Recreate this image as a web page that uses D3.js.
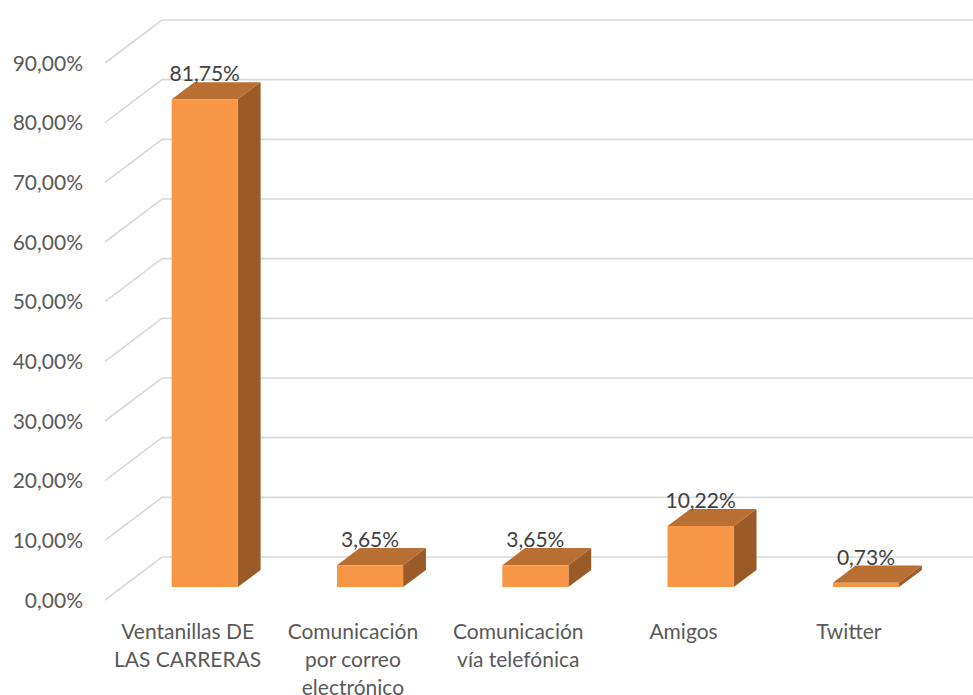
<!DOCTYPE html>
<html>
<head>
<meta charset="utf-8">
<script src="https://cdn.jsdelivr.net/npm/d3@7"></script>
<style>
  html, body { margin: 0; padding: 0; background: #fff; }
  svg { display: block; font-family: Lato, "Open Sans", sans-serif; }
</style>
</head>
<body>
<svg id="chart" width="973" height="695"></svg>
<script>
// Categories (each label split into its display lines)
const categories = [
  ["Ventanillas DE", "LAS CARRERAS"],
  ["Comunicación", "por correo", "electrónico"],
  ["Comunicación", "vía telefónica"],
  ["Amigos"],
  ["Twitter"]
];
const values = [0.8175, 0.0365, 0.0365, 0.1022, 0.0073];
const valueLabels = ["81,75%", "3,65%", "3,65%", "10,22%", "0,73%"];
const yTicks = [0, 0.1, 0.2, 0.3, 0.4, 0.5, 0.6, 0.7, 0.8, 0.9];
const yTickLabels = ["0,00%", "10,00%", "20,00%", "30,00%", "40,00%", "50,00%", "60,00%", "70,00%", "80,00%", "90,00%"];

const svg = d3.select("#chart");
const fontSize = 21;

// Back wall frame and 3D depth offset
const backLeft = 162, backRight = 988.5;
const depthX = 57, depthY = 43;
const y = d3.scaleLinear().domain([0, 0.9]).range([557, 20]);
const x = d3.scaleBand().domain(d3.range(categories.length))
  .range([backLeft, backRight]).paddingInner(0.6).paddingOuter(0.3);

// project a point on the back plane toward the front; d = 1 is the back wall, d = 0 the front edge
const px = (xb, d) => xb - (1 - d) * depthX;
const py = (yb, d) => yb + (1 - d) * depthY;

// Gridlines: back wall horizontal + left wall diagonal
const grid = svg.append("g").attr("stroke", "#d9d9d9").attr("stroke-width", 1.6).attr("fill", "none");
yTicks.forEach(t => {
  const yb = y(t);
  grid.append("path")
    .attr("d", `M${px(backLeft, 0)},${py(yb, 0)}L${backLeft},${yb}L973,${yb}`);
});

// Y axis labels at the front edge
svg.append("g").selectAll("text").data(yTicks).join("text")
  .attr("x", 83)
  .attr("y", t => py(y(t), 0) + 7.5)
  .attr("text-anchor", "end")
  .attr("fill", "#595959")
  .attr("font-size", fontSize)
  .text((t, i) => yTickLabels[i]);

// Bars as 3D boxes occupying depth 0.3..0.7
const dFront = 0.3, dBack = 0.7;
const colFront = "#f79646", colTop = "#b96f31", colSide = "#9a5b28";
const bars = svg.append("g");
values.forEach((v, i) => {
  const x0 = x(i), x1 = x(i) + x.bandwidth();
  const y0 = y(0), y1 = y(v);
  const P = (xb, yb, d) => [px(xb, d), py(yb, d)];
  const poly = pts => "M" + pts.map(p => p.join(",")).join("L") + "Z";
  // side face (right)
  bars.append("path").attr("fill", colSide)
    .attr("d", poly([P(x1, y0, dFront), P(x1, y0, dBack), P(x1, y1, dBack), P(x1, y1, dFront)]));
  // top face
  bars.append("path").attr("fill", colTop)
    .attr("d", poly([P(x0, y1, dFront), P(x1, y1, dFront), P(x1, y1, dBack), P(x0, y1, dBack)]));
  // front face
  bars.append("path").attr("fill", colFront)
    .attr("d", poly([P(x0, y0, dFront), P(x1, y0, dFront), P(x1, y1, dFront), P(x0, y1, dFront)]));
  // value label above the box
  svg.append("text")
    .attr("x", px((x0 + x1) / 2, dFront))
    .attr("y", py(y1, dBack) - 1)
    .attr("text-anchor", "middle")
    .attr("fill", "#404040")
    .attr("font-size", fontSize)
    .text(valueLabels[i]);
});

// Category labels along the front edge
const cat = svg.append("g");
categories.forEach((lines, i) => {
  const cx = px(x(i) + x.bandwidth() / 2, 0);
  const t = cat.append("text")
    .attr("text-anchor", "middle")
    .attr("fill", "#595959")
    .attr("font-size", fontSize);
  lines.forEach((ln, j) => {
    t.append("tspan").attr("x", cx).attr("y", 639 + j * 28).text(ln);
  });
});
</script>
</body>
</html>
